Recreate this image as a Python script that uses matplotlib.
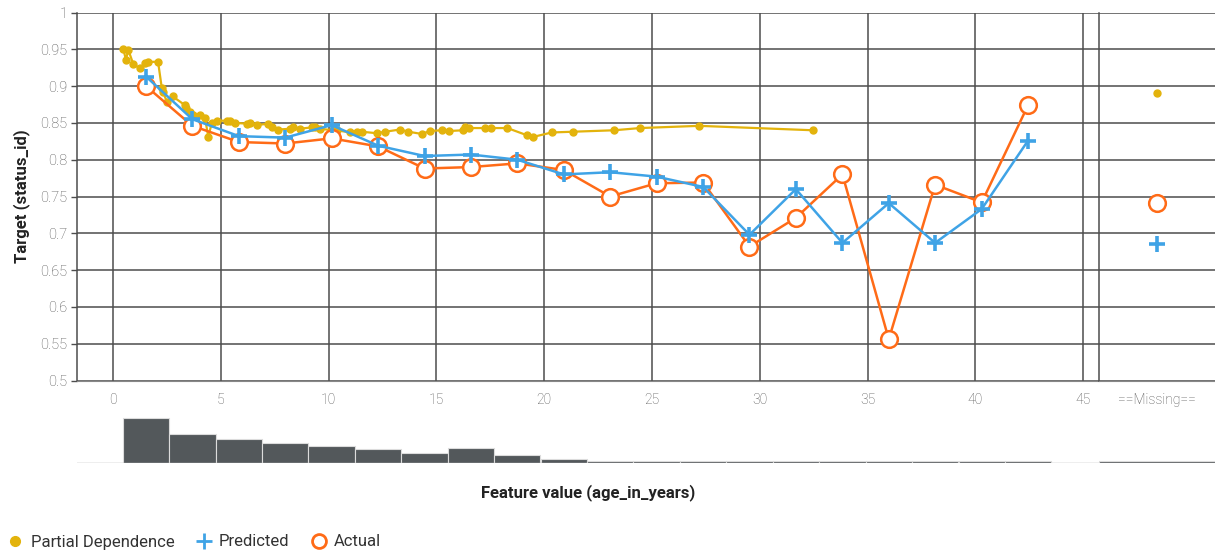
import matplotlib
matplotlib.use("Agg")
import matplotlib.pyplot as plt
from matplotlib.lines import Line2D

plt.rcParams['font.family'] = ['Roboto', 'DejaVu Sans']

# ---------------- data ----------------
pd_x = [0.48, 0.60, 0.71, 0.94, 1.25, 1.48, 1.64, 2.09, 2.26, 2.33,
        2.49, 2.77, 3.34, 3.37, 3.57, 3.72, 4.04, 4.27, 4.42, 4.58,
        4.81, 5.27, 5.43, 5.66, 6.20, 6.35, 6.67, 7.20, 7.36, 7.67,
        8.21, 8.36, 8.67, 9.22, 9.37, 9.60, 10.22, 10.37, 11.00, 11.30,
        11.54, 12.23, 12.62, 13.31, 13.70, 14.32, 14.70, 15.25, 15.60, 16.25,
        16.33, 16.53, 17.25, 17.52, 18.29, 19.22, 19.49, 20.35, 21.32, 23.25,
        24.44, 27.19, 32.45]
pd_y = [0.950, 0.936, 0.949, 0.930, 0.924, 0.931, 0.933, 0.933, 0.898, 0.892,
        0.879, 0.886, 0.874, 0.870, 0.865, 0.861, 0.861, 0.856, 0.831, 0.850,
        0.853, 0.853, 0.852, 0.850, 0.849, 0.850, 0.847, 0.849, 0.845, 0.841,
        0.842, 0.845, 0.842, 0.844, 0.844, 0.842, 0.840, 0.840, 0.837, 0.837,
        0.838, 0.836, 0.838, 0.841, 0.838, 0.835, 0.839, 0.840, 0.839, 0.840,
        0.844, 0.843, 0.843, 0.843, 0.843, 0.833, 0.831, 0.837, 0.838, 0.840,
        0.843, 0.846, 0.840]

bin_centers = [1.53, 3.68, 5.84, 7.99, 10.14, 12.30, 14.45, 16.60, 18.75, 20.91,
               23.06, 25.21, 27.37, 29.52, 31.67, 33.83, 35.98, 38.13, 40.29, 42.44]
predicted = [0.913, 0.855, 0.832, 0.830, 0.847, 0.819, 0.805, 0.807, 0.800, 0.780,
             0.783, 0.777, 0.763, 0.698, 0.760, 0.687, 0.741, 0.687, 0.733, 0.826]
actual = [0.900, 0.846, 0.824, 0.822, 0.829, 0.818, 0.788, 0.790, 0.795, 0.786,
          0.750, 0.768, 0.769, 0.682, 0.721, 0.780, 0.556, 0.766, 0.742, 0.874]
counts = [134, 87, 72, 60, 51, 43, 31, 44, 25, 13,
          7, 5, 5, 5, 5, 5, 5, 5, 5, 5]

missing_label = "==Missing=="
missing_pd = 0.891
missing_predicted = 0.685
missing_actual = 0.741
missing_count = 5

x_ticks = [0, 5, 10, 15, 20, 25, 30, 35, 40, 45]
y_ticks = [0.5, 0.55, 0.6, 0.65, 0.7, 0.75, 0.8, 0.85, 0.9, 0.95, 1]
y_ticklabels = ['0.5', '0.55', '0.6', '0.65', '0.7', '0.75', '0.8', '0.85', '0.9', '0.95', '1']

# ---------------- style ----------------
W, H = 1215, 556
C_PD = '#e3b30c'
C_PRED = '#3fa3e6'
C_ACT = '#ff6b17'
C_GRID = '#4d4d4d'
C_TICK = '#555555'
C_BAR = '#53585b'


def px(l, t, r, b):
    return [l / W, (H - b) / H, (r - l) / W, (b - t) / H]


fig = plt.figure(figsize=(W / 100, H / 100), dpi=100)

ax = fig.add_axes(px(77, 12.5, 1099, 380.5))
axm = fig.add_axes(px(1099, 12.5, 1215, 380.5))
axh = fig.add_axes(px(77, 413, 1099, 463))
axhm = fig.add_axes(px(1099, 413, 1215, 463))

xmin, xmax = -1.67, 45.73

# main plot
for a in (ax, axm):
    a.set_ylim(0.5, 1.0)
    a.set_yticks(y_ticks)
    a.grid(axis='y', color=C_GRID, lw=1.1)
    a.set_axisbelow(True)
    for s in ('top', 'right'):
        a.spines[s].set_visible(False)
    a.spines['bottom'].set_color('#888888')
    a.spines['left'].set_color(C_GRID)
    a.spines['left'].set_linewidth(1.1)

ax.set_xlim(xmin, xmax)
ax.set_xticks(x_ticks)
ax.grid(axis='x', color=C_GRID, lw=1.1)
ax.set_yticklabels(y_ticklabels)
ax.tick_params(axis='y', colors=C_TICK, labelsize=10.5, length=4, width=1, color=C_GRID, pad=3)
ax.tick_params(axis='x', colors=C_TICK, labelsize=10, length=0, pad=9)
for lab in ax.get_xticklabels() + ax.get_yticklabels():
    lab.set_fontweight('light')
ax.set_ylabel('Target (status_id)', fontsize=12, fontweight='bold', color='#222222', labelpad=7)

ax.plot(pd_x, pd_y, color=C_PD, lw=1.6, marker='o', ms=5, zorder=3, clip_on=False)
ax.plot(bin_centers, actual, color=C_ACT, lw=1.8, marker='o', ms=12, mfc='white',
        mec=C_ACT, mew=1.8, zorder=4)
ax.plot(bin_centers, predicted, color=C_PRED, lw=1.8, marker='+', ms=12, mew=2.6, zorder=5)

axm.set_xlim(0, 1)
axm.set_xticks([0.5])
axm.set_xticklabels([missing_label])
axm.set_yticklabels([])
axm.tick_params(axis='y', length=0)
axm.tick_params(axis='x', colors=C_TICK, labelsize=10, length=0, pad=9)
for lab in axm.get_xticklabels():
    lab.set_fontweight('light')
axm.plot([0.5], [missing_pd], color=C_PD, marker='o', ms=5, lw=0, zorder=3)
axm.plot([0.5], [missing_actual], color=C_ACT, marker='o', ms=12, mfc='white', mec=C_ACT,
         mew=1.8, lw=0, zorder=4)
axm.plot([0.5], [missing_predicted], color=C_PRED, marker='+', ms=12, mew=2.6, lw=0, zorder=5)

# histograms
axh.set_xlim(xmin, xmax)
axh.set_ylim(0, 150)
axh.bar(bin_centers, counts, width=2.15, color=C_BAR, edgecolor='#dcdcdc', linewidth=0.8)
axh.axhline(0, color='#aaaaaa', lw=1)
axhm.set_xlim(0, 1)
axhm.set_ylim(0, 150)
axhm.bar([0.5], [missing_count], width=1.0, color=C_BAR, edgecolor='#dcdcdc', linewidth=0.8)
axhm.axhline(0, color='#aaaaaa', lw=1)
for a in (axh, axhm):
    a.axis('off')

fig.text((77 + 1099) / 2 / W, (H - 493) / H, 'Feature value (age_in_years)', ha='center',
         va='center', fontsize=12, fontweight='bold', color='#222222')

handles = [
    Line2D([], [], color=C_PD, marker='o', ms=7, lw=0),
    Line2D([], [], color=C_PRED, marker='+', ms=12, mew=2, lw=0),
    Line2D([], [], color=C_ACT, marker='o', ms=10, mfc='white', mec=C_ACT, mew=2, lw=0),
]
leg = fig.legend(handles, ['Partial Dependence', 'Predicted', 'Actual'], loc='center left',
                 bbox_to_anchor=(-0.0065, (H - 542) / H), ncol=3, frameon=False, fontsize=12,
                 handlelength=1.0, handletextpad=0.42, columnspacing=1.25)
for t in leg.get_texts():
    t.set_color('#333333')

fig.savefig('out.png', dpi=100)
